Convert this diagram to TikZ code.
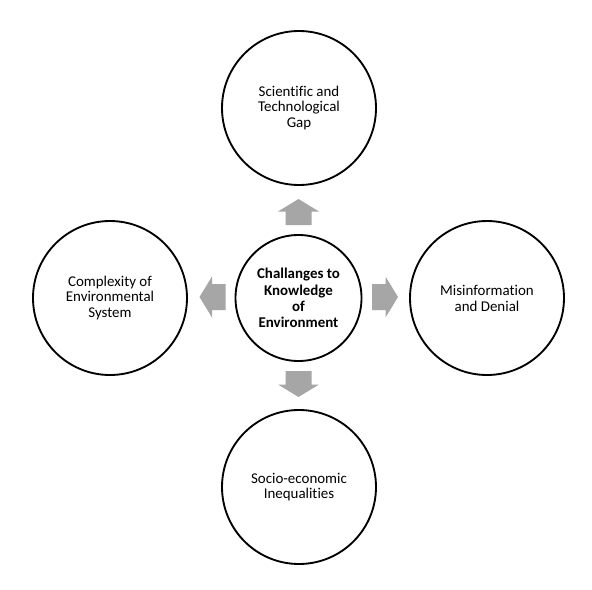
\documentclass[tikz,border=0pt]{standalone}
\usepackage{fontspec}
\setmainfont{Carlito}[Ligatures=CommonOff]
\definecolor{arrowgray}{RGB}{166,166,166}
\tikzset{
  every picture/.style={x=0.75pt,y=-0.75pt},
  bubble/.style={circle, draw=black, line width=1.4pt, minimum size=154*0.75pt, inner sep=0pt, align=center, font=\fontsize{11.2}{11.9}\selectfont},
  hub/.style={circle, draw=black, line width=1.4pt, minimum size=126*0.75pt, inner sep=0pt, align=center, font=\fontsize{11.2}{12.1}\selectfont\bfseries},
  blockarrow/.style={fill=arrowgray, draw=none},
  anchorpt/.style={coordinate}
}
\begin{document}
\begin{tikzpicture}
\useasboundingbox[fill=white] (0,0) rectangle (592,589);
\node[hub] (c) at (298.5,298) {Challanges to\\Knowledge\\of\\Environment};
\node[bubble] (t) at (299,108) {Scientific and\\Technological\\Gap};
\node[bubble] (b) at (299,487) {Socio-economic\\Inequalities};
\node[bubble] (l) at (110,298) {Complexity of\\Environmental\\System};
\node[bubble] (r) at (487,298) {Misinformation\\and Denial};
% block arrows (drawn pointing right, then rotated)
\node[anchorpt] (at) at (298.5,212) {};
\node[anchorpt] (ab) at (298.5,384) {};
\node[anchorpt] (al) at (212.5,297) {};
\node[anchorpt] (ar) at (385,297) {};
\foreach \p/\ang in {at/90, ab/-90, al/180, ar/0}{
  \begin{scope}[shift={(\p)}, rotate=\ang]
    \fill[blockarrow] (-13,-13) -- (0.5,-13) -- (0.5,-20.5) -- (13,0) -- (0.5,20.5) -- (0.5,13) -- (-13,13) -- cycle;
  \end{scope}
}
\end{tikzpicture}
\end{document}
